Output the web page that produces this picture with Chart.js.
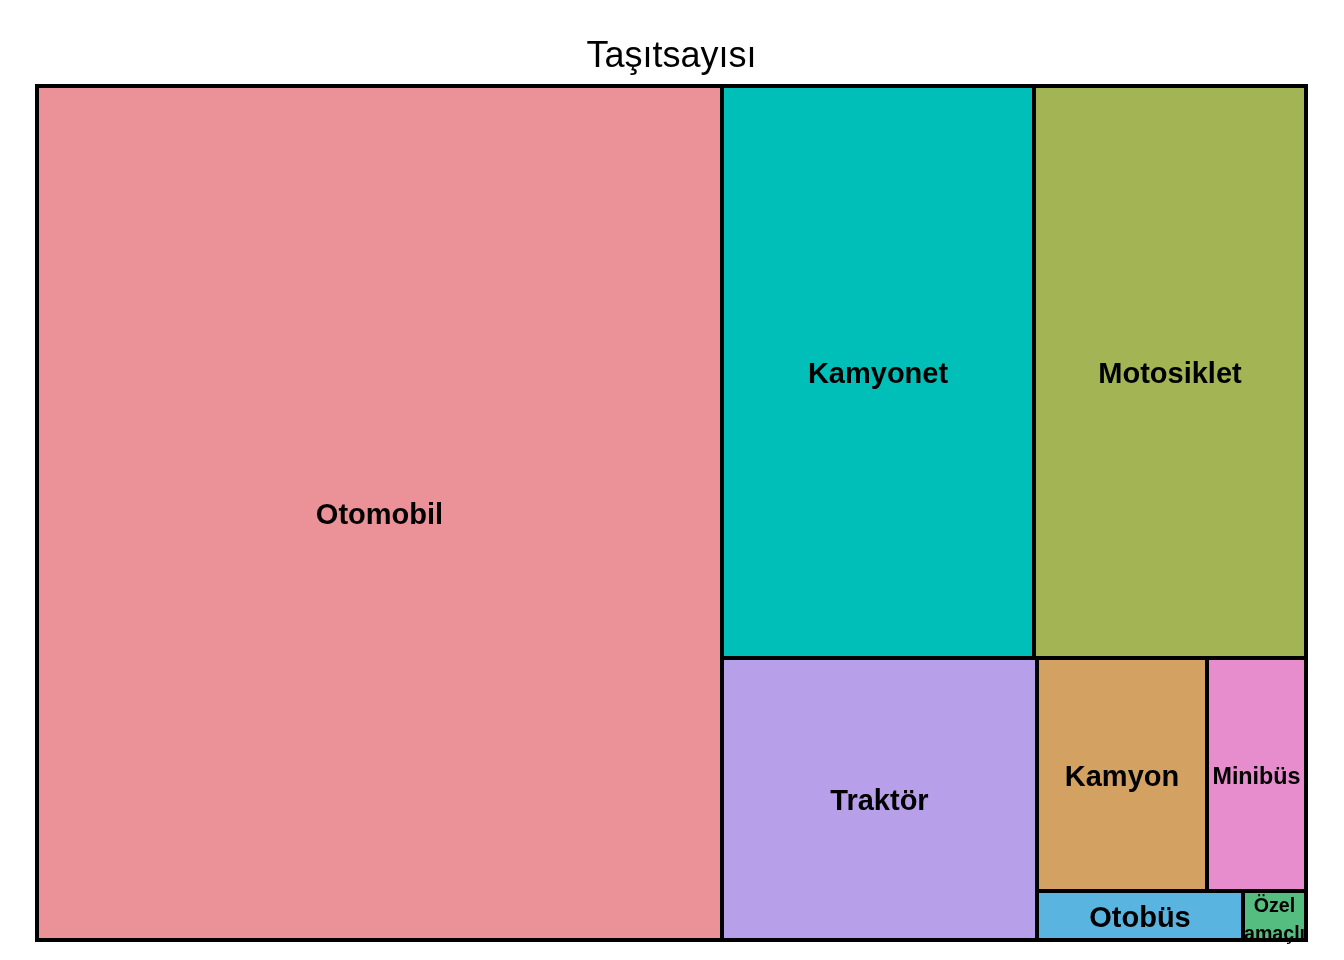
<!DOCTYPE html>
<html>
<head>
<meta charset="utf-8">
<script src="https://cdn.jsdelivr.net/npm/chart.js@4/dist/chart.umd.min.js"></script>
<style>
html,body{margin:0;padding:0;background:#fff;}
#wrap{width:1344px;height:960px;}
</style>
</head>
<body>
<div id="wrap"><canvas id="c" width="1344" height="960"></canvas></div>
<script>
const chartTitle = 'Taşıtsayısı';
const categories = ['Otomobil', 'Kamyonet', 'Motosiklet', 'Traktör', 'Kamyon', 'Minibüs', 'Otobüs', 'Özel amaçlı'];
const values = [12500, 3813, 3325, 1898, 846, 493, 216, 66];
const colors = ['#EB9198', '#00BFB8', '#A2B453', '#B89FEA', '#D3A263', '#E78CCD', '#5AB4E0', '#56BD80'];

const FONT = '"Liberation Sans", Arial, sans-serif';
const BASE_FS = 29;

function pivotLayout(idx, x, y, w, h, out) {
  const n = idx.length;
  if (!n) return;
  if (n === 1) { out[idx[0]] = {x, y, w, h}; return; }
  const tot = idx.reduce((s, i) => s + values[i], 0);
  const P = values[idx[0]];
  const horiz = w >= h;
  let best = 0, bestR = Infinity, acc = 0;
  for (let k = 0; k < n; k++) {
    acc += values[idx[k]];
    let r;
    if (horiz) { const cw = w * acc / tot, ph = h * P / acc; r = Math.max(cw / ph, ph / cw); }
    else { const rh = h * acc / tot, pw = w * P / acc; r = Math.max(rh / pw, pw / rh); }
    if (r < bestR) { bestR = r; best = k; }
  }
  let a = 0;
  for (let k = 0; k <= best; k++) a += values[idx[k]];
  const L2 = idx.slice(1, best + 1), L3 = idx.slice(best + 1);
  if (horiz) {
    const cw = w * a / tot, ph = h * P / a;
    out[idx[0]] = {x, y, w: cw, h: ph};
    pivotLayout(L2, x, y + ph, cw, h - ph, out);
    pivotLayout(L3, x + cw, y, w - cw, h, out);
  } else {
    const rh = h * a / tot, pw = w * P / a;
    out[idx[0]] = {x, y, w: pw, h: rh};
    pivotLayout(L2, x + pw, y, w - pw, rh, out);
    pivotLayout(L3, x, y + rh, w, h - rh, out);
  }
}

const treemapPlugin = {
  id: 'treemap',
  afterDatasetsDraw(chart) {
    const ctx = chart.ctx, ca = chart.chartArea;
    const xs = chart.scales.x, ys = chart.scales.y;
    const W = ca.right - ca.left, H = ca.bottom - ca.top;
    const order = values.map((v, i) => i).sort((a, b) => values[b] - values[a]);
    const rects = [];
    pivotLayout(order, 0, 0, W, H, rects);
    const px = rects.map(r => {
      const x0 = Math.round(xs.getPixelForValue(r.x / W));
      const x1 = Math.round(xs.getPixelForValue((r.x + r.w) / W));
      const y0 = Math.round(ys.getPixelForValue(r.y / H));
      const y1 = Math.round(ys.getPixelForValue((r.y + r.h) / H));
      return {x0, x1, y0: Math.min(y0, y1), y1: Math.max(y0, y1)};
    });
    ctx.save();
    px.forEach((p, i) => {
      ctx.fillStyle = colors[i];
      ctx.fillRect(p.x0, p.y0, p.x1 - p.x0, p.y1 - p.y0);
    });
    ctx.fillStyle = '#000';
    ctx.textAlign = 'center';
    ctx.textBaseline = 'middle';
    px.forEach((p, i) => {
      const w = p.x1 - p.x0, cx = (p.x0 + p.x1) / 2, cy = (p.y0 + p.y1) / 2;
      const label = categories[i];
      ctx.font = 'bold ' + BASE_FS + 'px ' + FONT;
      const tw = ctx.measureText(label).width;
      let fs = Math.min(BASE_FS, BASE_FS * 0.89 * w / tw);
      if (fs < BASE_FS * 0.6 && label.indexOf(' ') > 0) {
        const lines = label.split(' ');
        const mw = Math.max(...lines.map(l => ctx.measureText(l).width));
        fs = Math.min(BASE_FS, BASE_FS * 0.97 * w / mw);
        ctx.font = 'bold ' + fs + 'px ' + FONT;
        const lh = fs * 1.45;
        lines.forEach((l, j) => {
          ctx.fillText(l, cx, cy + 5 + (j - (lines.length - 1) / 2) * lh);
        });
      } else {
        ctx.font = 'bold ' + fs + 'px ' + FONT;
        ctx.fillText(label, cx, cy + 3);
      }
    });
    ctx.strokeStyle = '#000';
    ctx.lineWidth = 4;
    px.forEach(p => {
      ctx.strokeRect(p.x0, p.y0, p.x1 - p.x0, p.y1 - p.y0);
    });
    ctx.restore();
  }
};

new Chart(document.getElementById('c'), {
  type: 'scatter',
  data: {
    labels: categories,
    datasets: [{
      label: chartTitle,
      data: values.map((v, i) => ({x: 0, y: 0, v})),
      pointRadius: 0,
      showLine: false
    }]
  },
  options: {
    responsive: false,
    animation: false,
    events: [],
    layout: {padding: {left: 37, right: 38, top: 0, bottom: 20}},
    scales: {
      x: {type: 'linear', min: 0, max: 1, display: false},
      y: {type: 'linear', min: 0, max: 1, reverse: true, display: false}
    },
    plugins: {
      legend: {display: false},
      tooltip: {enabled: false},
      title: {
        display: true,
        text: chartTitle,
        color: '#000',
        font: {family: FONT, size: 36, weight: 'normal', lineHeight: 1.2},
        padding: {top: 35, bottom: 8}
      }
    }
  },
  plugins: [treemapPlugin]
});
</script>
</body>
</html>
